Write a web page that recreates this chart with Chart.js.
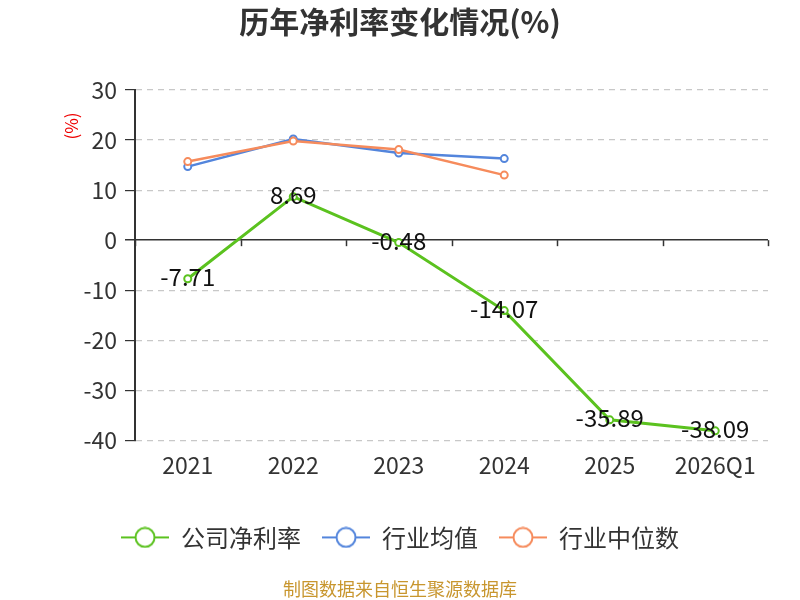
<!DOCTYPE html>
<html>
<head>
<meta charset="utf-8">
<script src="https://cdn.jsdelivr.net/npm/chart.js@4.4.0/dist/chart.umd.min.js"></script>
<style>
  html, body { margin: 0; padding: 0; background: #fff; }
  #wrap { width: 800px; height: 600px; }
</style>
</head>
<body>
<div id="wrap"><canvas id="grafico" width="800" height="600"></canvas></div>
<script>
const anni = ["2021", "2022", "2023", "2024", "2025", "2026Q1"];
const nettoSocieta = [-7.71, 8.69, -0.48, -14.07, -35.89, -38.09];
const mediaSettore = [14.7, 20.2, 17.4, 16.3, null, null];
const medianaSettore = [15.7, 19.8, 18.1, 13.0, null, null];
const yTicks = [30, 20, 10, 0, -10, -20, -30, -40];

const FONT = "'Noto Sans CJK SC', 'Noto Sans', sans-serif";
const verde = "#5bc21f", blu = "#5385dc", arancio = "#f68b5c";

function legendIcon(color) {
  const c = document.createElement("canvas");
  c.width = 48;
  c.height = 22;
  const g = c.getContext("2d");
  g.strokeStyle = color;
  g.lineWidth = 2;
  g.beginPath();
  g.moveTo(0, 11);
  g.lineTo(48, 11);
  g.stroke();
  g.fillStyle = "#fff";
  g.beginPath();
  g.arc(24, 11, 9.5, 0, Math.PI * 2);
  g.fill();
  g.stroke();
  return c;
}

const extra = {
  id: "extra",
  afterDraw(chart) {
    const ctx = chart.ctx, x = chart.scales.x, y = chart.scales.y;
    const y0 = y.getPixelForValue(0);
    ctx.save();
    // tacche asse x sulla linea dello zero
    ctx.strokeStyle = "#333";
    ctx.lineWidth = 1.5;
    const step = x.getPixelForValue(1) - x.getPixelForValue(0);
    for (let i = 0; i <= anni.length; i++) {
      const px = Math.round(x.getPixelForValue(i) - step / 2) + 0.5;
      ctx.beginPath();
      ctx.moveTo(px, y0);
      ctx.lineTo(px, y0 + 6);
      ctx.stroke();
    }
    // unita asse y
    ctx.translate(72, 126);
    ctx.rotate(-Math.PI / 2);
    ctx.fillStyle = "#e00";
    ctx.font = "17px " + FONT;
    ctx.textAlign = "center";
    ctx.textBaseline = "middle";
    ctx.fillText("(%)", 0, 0);
    ctx.restore();
  },
  afterDatasetsDraw(chart) {
    const ctx = chart.ctx;
    const meta = chart.getDatasetMeta(0);
    ctx.save();
    ctx.font = "24px " + FONT;
    ctx.fillStyle = "#111";
    ctx.textAlign = "center";
    ctx.textBaseline = "middle";
    meta.data.forEach((p, i) => {
      ctx.fillText(nettoSocieta[i].toFixed(2), p.x, p.y - 1.5);
    });
    ctx.restore();
  },
};

const icone = [legendIcon(verde), legendIcon(blu), legendIcon(arancio)];

new Chart(document.getElementById("grafico"), {
  type: "line",
  data: {
    labels: anni,
    datasets: [
      {
        label: "公司净利率",
        data: nettoSocieta,
        borderColor: verde,
        backgroundColor: "#fff",
        pointBorderColor: verde,
        pointBackgroundColor: "#fff",
        borderWidth: 3,
        pointRadius: 3.5,
        pointBorderWidth: 2,
        order: 0,
      },
      {
        label: "行业均值",
        data: mediaSettore,
        borderColor: blu,
        pointBorderColor: blu,
        pointBackgroundColor: "#fff",
        borderWidth: 2.5,
        pointRadius: 3.5,
        pointBorderWidth: 2,
        order: 2,
      },
      {
        label: "行业中位数",
        data: medianaSettore,
        borderColor: arancio,
        pointBorderColor: arancio,
        pointBackgroundColor: "#fff",
        borderWidth: 2.5,
        pointRadius: 3.5,
        pointBorderWidth: 2,
        order: 1,
      },
    ],
  },
  options: {
    responsive: false,
    animation: false,
    layout: { padding: 0 },
    plugins: {
      tooltip: { enabled: false },
      title: {
        display: true,
        text: "历年净利率变化情况(%)",
        color: "#333",
        font: { family: FONT, size: 30, weight: "bold" },
        padding: { top: 4, bottom: 50 },
      },
      subtitle: {
        display: true,
        position: "bottom",
        text: "制图数据来自恒生聚源数据库",
        color: "#c8962e",
        font: { family: FONT, size: 18 },
        padding: { top: 19, bottom: 0 },
      },
      legend: {
        position: "bottom",
        labels: {
          usePointStyle: true,
          pointStyleWidth: 48,
          padding: 21,
          color: "#333",
          font: { family: FONT, size: 24 },
          generateLabels: (chart) =>
            chart.data.datasets.map((d, i) => ({
              text: d.label,
              pointStyle: icone[i],
              fontColor: "#333",
              lineWidth: 0,
              strokeStyle: "transparent",
              fillStyle: "transparent",
              datasetIndex: i,
            })),
        },
      },
    },
    scales: {
      x: {
        offset: true,
        grid: { display: false, drawTicks: false },
        border: { display: false },
        ticks: { color: "#333", padding: 11, font: { family: FONT, size: 23 } },
        afterFit: (s) => { s.height = 64; },
      },
      y: {
        min: -40,
        max: 30,
        afterBuildTicks: (s) => { s.ticks = yTicks.map((v) => ({ value: v })); },
        afterFit: (s) => { s.width = 135; },
        ticks: { color: "#333", padding: 8, font: { family: FONT, size: 23 } },
        border: {
          display: true,
          color: "#333",
          width: 2,
          dash: (c) => (c.tick && c.tick.value === 0 ? [] : [6, 5]),
        },
        grid: {
          color: (c) => (c.tick && c.tick.value === 0 ? "#333" : "#c8c8c8"),
          lineWidth: (c) => (c.tick && c.tick.value === 0 ? 1.5 : 1.2),
          tickColor: "#333",
          tickLength: 10,
          tickBorderDash: [],
        },
      },
      margineDestro: {
        position: "right",
        min: -40,
        max: 30,
        ticks: { display: false },
        grid: { display: false, drawTicks: false },
        border: { display: false },
        afterFit: (s) => { s.width = 32; },
      },
    },
  },
  plugins: [extra],
});
</script>
</body>
</html>
